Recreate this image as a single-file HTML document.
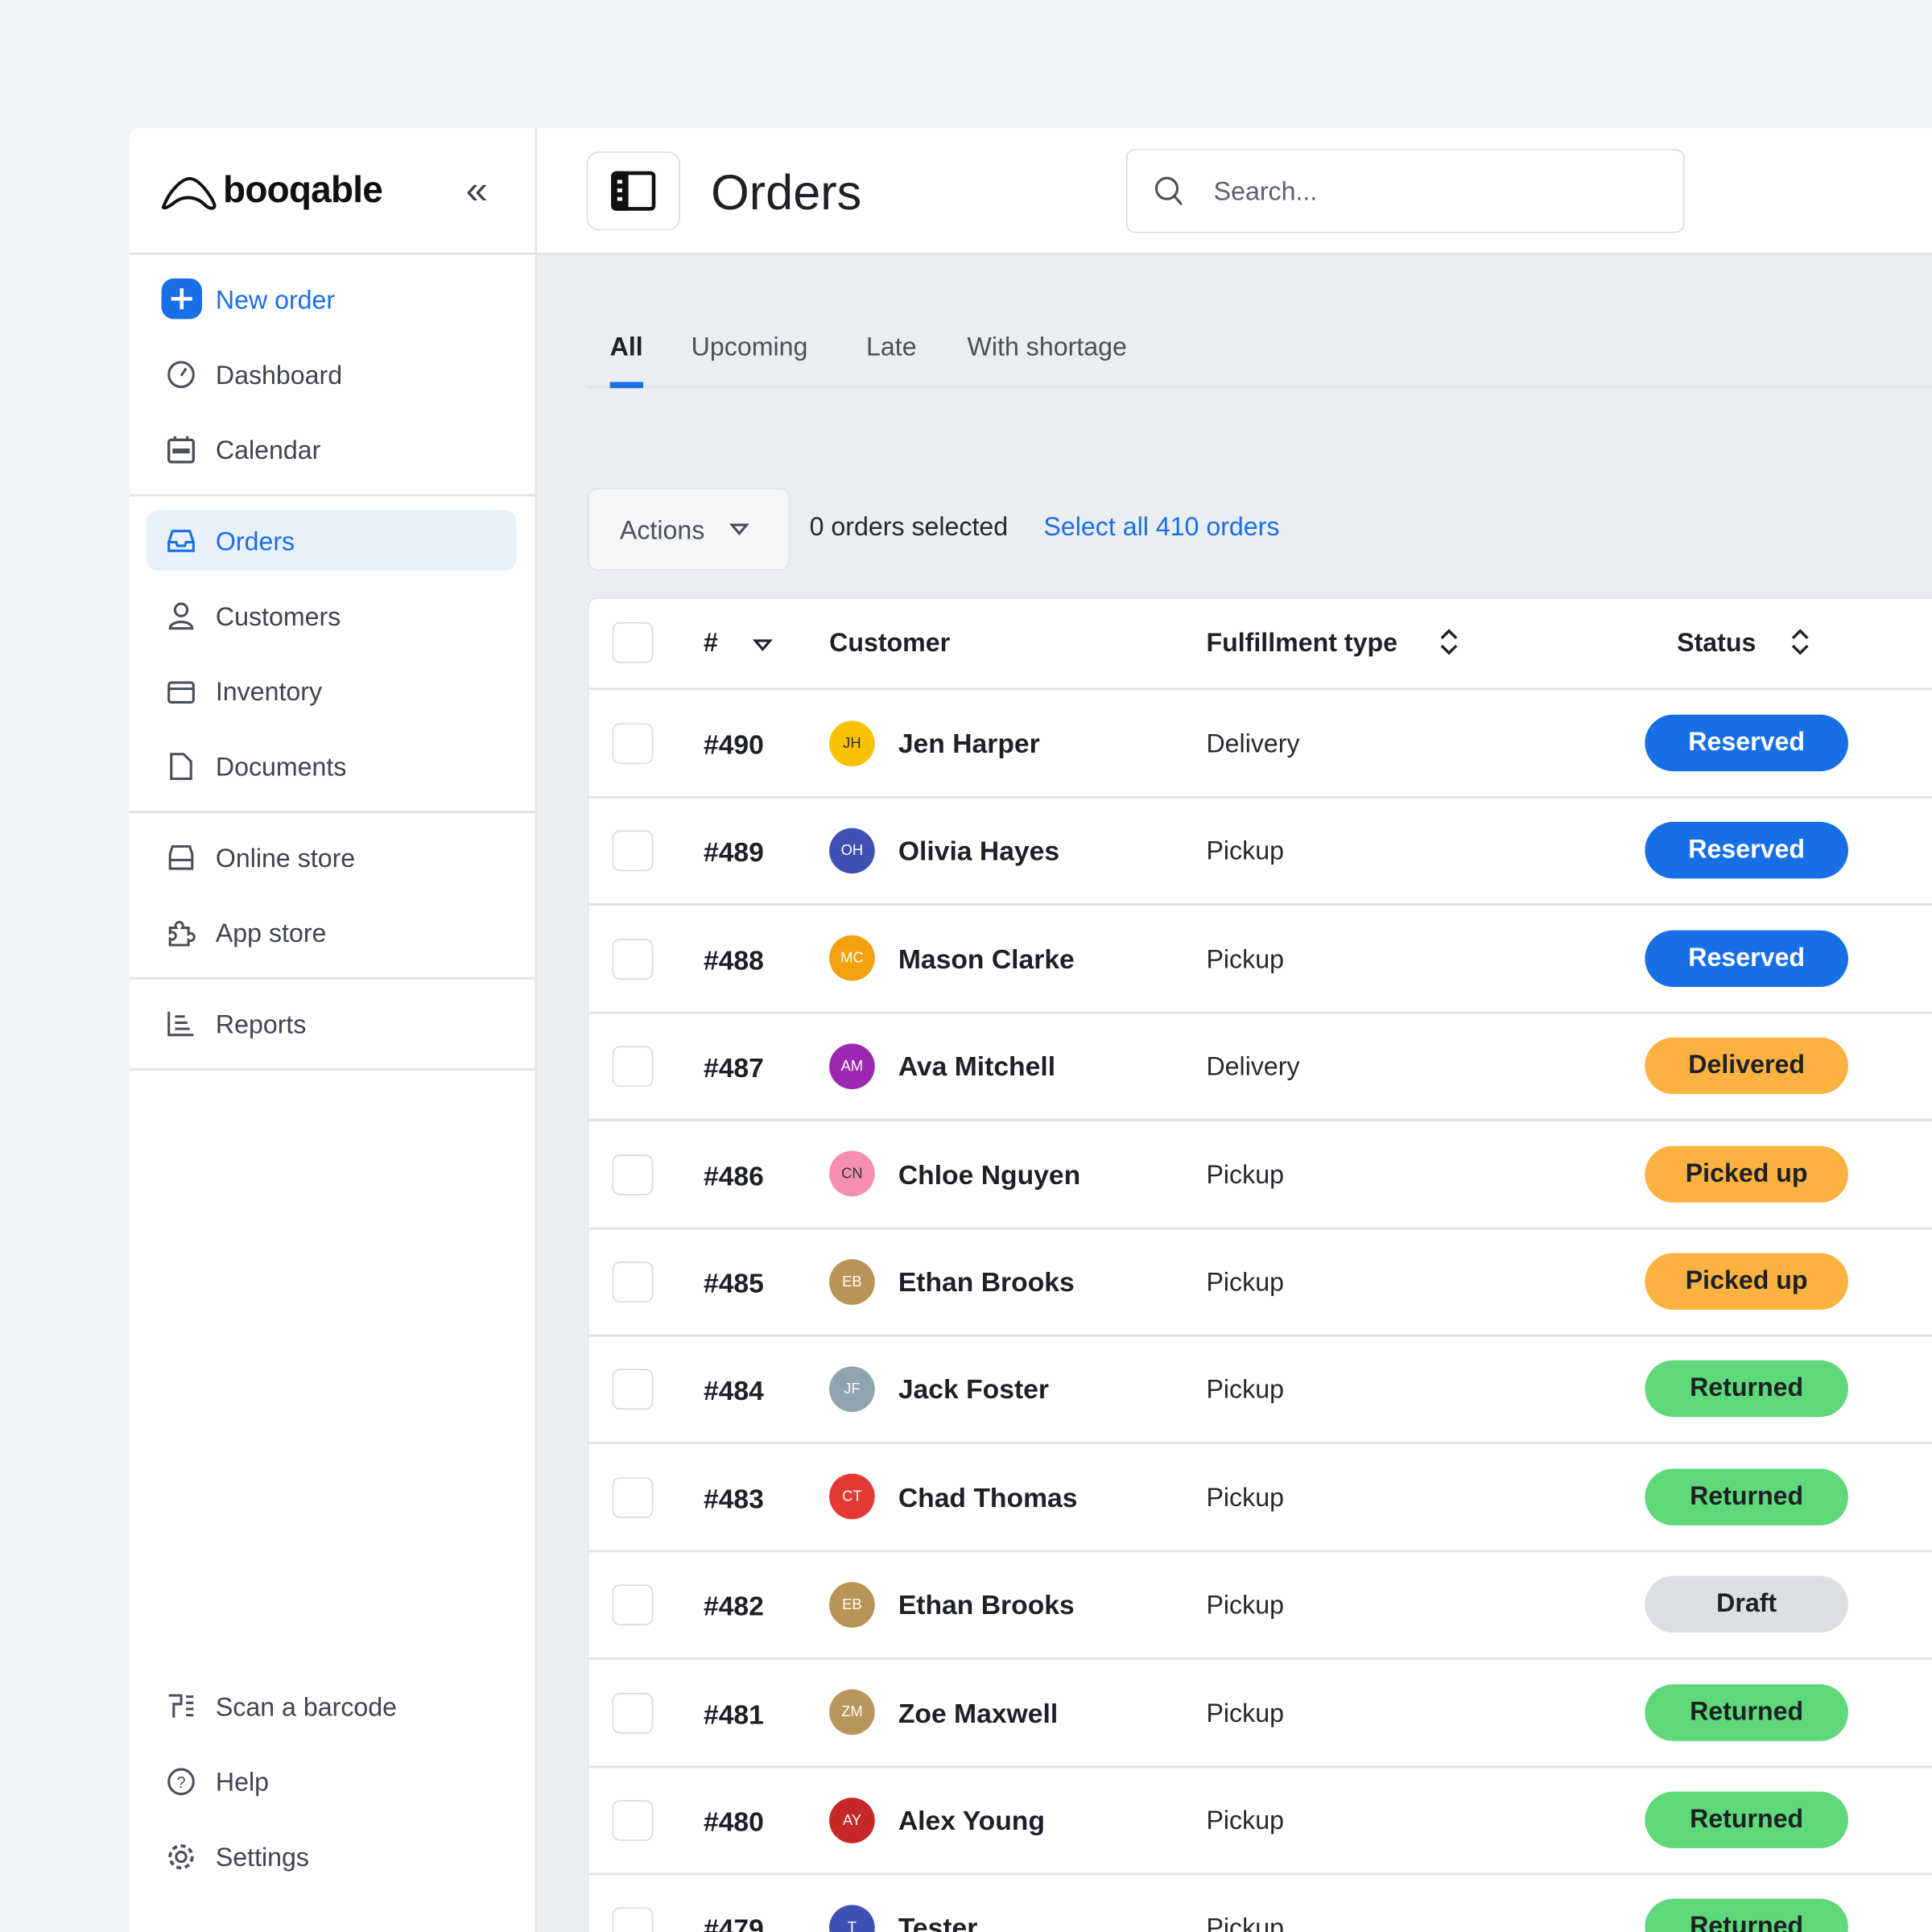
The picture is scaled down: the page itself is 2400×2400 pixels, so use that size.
<!DOCTYPE html>
<html><head><meta charset="utf-8">
<style>
*{margin:0;padding:0;box-sizing:border-box}
html,body{width:2400px;height:2400px;overflow:hidden;background:#f1f4f7}
#w{position:absolute;left:0;top:0;width:1568px;height:1568px;overflow:hidden;transform:scale(1.530612);transform-origin:0 0;font-family:"Liberation Sans",sans-serif;color:#1d2125}
.a{position:absolute}
.t{position:absolute;white-space:nowrap;line-height:1;transform:translateY(-50%)}
.nav{font-size:21px;color:#3f454c}
.ic{position:absolute;width:24px;height:24px}
.hl{position:absolute;height:2px;background:#e1e4e7}
.cb{position:absolute;left:497px;width:33px;height:33px;border:1.5px solid #d5d8db;border-radius:6px;background:#fff}
.num{position:absolute;left:571px;font-size:22px;font-weight:bold}
.av{position:absolute;left:673px;width:37px;height:37px;border-radius:50%;color:#fff;font-size:12px;text-align:center;line-height:37px}
.nm{position:absolute;left:729px;font-size:22px;font-weight:bold}
.ft{position:absolute;left:979px;font-size:21px;color:#25292d}
.pill{position:absolute;left:1335px;width:165px;height:46px;border-radius:23px;text-align:center;line-height:46px;font-size:21px;font-weight:bold}
</style></head><body><div id="w">
<div class="a" style="left:105px;top:104px;width:331px;height:1464px;background:#fff;border-right:2px solid #e1e4e7;border-radius:8px 0 0 0"></div>
<div class="a" style="left:436px;top:104px;width:1132px;height:102px;background:#fff"></div>
<div class="a" style="left:436px;top:206px;width:1132px;height:1362px;background:#ebeef1"></div>
<div class="hl" style="left:105px;top:205px;width:1463px"></div>
<svg class="a" style="left:130px;top:140px" width="48" height="32" viewBox="0 0 48 32"><path d="M3 27 C8 14,18 5,24 5 C32 5,42 20,44 26 C45 30,40 30,36 26 C30 20,20 18,12 24 C6 29,1 30,3 27Z" fill="none" stroke="#111" stroke-width="2.6"/></svg>
<div class="t" style="left:181px;top:155px;font-size:30px;font-weight:bold;letter-spacing:-0.5px;color:#111">booqable</div>
<div class="t" style="left:378px;top:154px;font-size:32px;color:#3f454c">«</div>
<div class="a" style="left:476px;top:123px;width:76px;height:64px;border:1.5px solid #d9dcdf;border-radius:10px;background:#fff"></div>
<div class="a" style="left:496px;top:139px;width:36px;height:32px;border:3.5px solid #111;border-radius:4px"></div>
<div class="a" style="left:496px;top:139px;width:14px;height:32px;background:#111;border-radius:4px 0 0 4px"></div>
<div class="a" style="left:501px;top:146px;width:4px;height:3px;background:#fff"></div>
<div class="a" style="left:501px;top:153px;width:4px;height:3px;background:#fff"></div>
<div class="a" style="left:501px;top:160px;width:4px;height:3px;background:#fff"></div>
<div class="t" style="left:577px;top:157px;font-size:40px;color:#1d2125">Orders</div>
<div class="a" style="left:914px;top:121px;width:453px;height:68px;border:1.5px solid #d5d8db;border-radius:7px;background:#fff"></div>
<svg class="a" style="left:935px;top:141px" width="28" height="28"><circle cx="12" cy="12" r="8.5" fill="none" stroke="#4a5058" stroke-width="2"/><line x1="18" y1="18" x2="24" y2="25" stroke="#4a5058" stroke-width="2"/></svg>
<div class="t" style="left:985px;top:156px;font-size:21px;color:#5b6168">Search...</div>
<div class="a" style="left:131px;top:226px;width:33px;height:33px;border-radius:10px;background:#1a6ee8"></div>
<div class="a" style="left:146px;top:234px;width:2.5px;height:17px;background:#fff"></div>
<div class="a" style="left:139px;top:241px;width:17px;height:2.5px;background:#fff"></div>
<div class="t nav" style="left:175px;top:244px;color:#1a6ee8">New order</div>
<svg class="ic" style="left:135px;top:292px"><circle cx="12" cy="12" r="10" fill="none" stroke="#4a5058" stroke-width="2"/><line x1="12" y1="13" x2="16" y2="7" stroke="#4a5058" stroke-width="2"/></svg>
<div class="t nav" style="left:175px;top:305px">Dashboard</div>
<svg class="ic" style="left:135px;top:353px"><rect x="2" y="4" width="20" height="18" rx="2" fill="none" stroke="#4a5058" stroke-width="2.2"/><rect x="5" y="11" width="14" height="4" fill="#4a5058"/><line x1="7" y1="1" x2="7" y2="5" stroke="#4a5058" stroke-width="2"/><line x1="17" y1="1" x2="17" y2="5" stroke="#4a5058" stroke-width="2"/></svg>
<div class="t nav" style="left:175px;top:366px">Calendar</div>
<div class="hl" style="left:105px;top:401px;width:330px"></div>
<div class="a" style="left:119px;top:414px;width:300px;height:49px;border-radius:9px;background:#e8f0fc"></div>
<svg class="ic" style="left:135px;top:427px"><path d="M2 13 L5 4 H19 L22 13 V20 H2Z M2 13 H8 L9 16 H15 L16 13 H22" fill="none" stroke="#1a6ee8" stroke-width="2"/></svg>
<div class="t nav" style="left:175px;top:440px;color:#1a6ee8">Orders</div>
<svg class="ic" style="left:135px;top:488px"><circle cx="12" cy="7" r="5" fill="none" stroke="#4a5058" stroke-width="2"/><path d="M3 22 C3 15,21 15,21 22Z" fill="none" stroke="#4a5058" stroke-width="2"/></svg>
<div class="t nav" style="left:175px;top:501px">Customers</div>
<svg class="ic" style="left:135px;top:549px"><rect x="2" y="5" width="20" height="16" rx="2" fill="none" stroke="#4a5058" stroke-width="2"/><line x1="2" y1="10" x2="22" y2="10" stroke="#4a5058" stroke-width="2"/></svg>
<div class="t nav" style="left:175px;top:562px">Inventory</div>
<svg class="ic" style="left:135px;top:610px"><path d="M4 2 H14 L20 8 V22 H4Z" fill="none" stroke="#4a5058" stroke-width="2"/></svg>
<div class="t nav" style="left:175px;top:623px">Documents</div>
<div class="hl" style="left:105px;top:658px;width:330px"></div>
<svg class="ic" style="left:135px;top:684px"><path d="M3 9 L5 3 H19 L21 9 V21 H3Z M3 14 H21" fill="none" stroke="#4a5058" stroke-width="2"/></svg>
<div class="t nav" style="left:175px;top:697px">Online store</div>
<svg class="ic" style="left:135px;top:745px"><path d="M3 8 H8 A3 3 0 1 1 13 8 H18 V13 A3 3 0 1 1 18 18 V22 H3 V17 A3 3 0 1 0 3 12Z" fill="none" stroke="#4a5058" stroke-width="2"/></svg>
<div class="t nav" style="left:175px;top:758px">App store</div>
<div class="hl" style="left:105px;top:793px;width:330px"></div>
<svg class="ic" style="left:135px;top:819px"><path d="M2 2 V21 H22 M7 6 H15 M7 11 H17 M7 16 H19" fill="none" stroke="#4a5058" stroke-width="2"/></svg>
<div class="t nav" style="left:175px;top:832px">Reports</div>
<div class="hl" style="left:105px;top:867px;width:330px"></div>
<svg class="ic" style="left:135px;top:1373px"><path d="M2 3 H12 V10 H6 V21 M16 4 H22 M16 9 H22 M16 14 H22 M16 19 H22" fill="none" stroke="#4a5058" stroke-width="2"/></svg>
<div class="t nav" style="left:175px;top:1386px">Scan a barcode</div>
<svg class="ic" style="left:135px;top:1434px"><circle cx="12" cy="12" r="10" fill="none" stroke="#4a5058" stroke-width="2"/><text x="12" y="17" font-size="13" text-anchor="middle" fill="#4a5058" font-family="Liberation Sans">?</text></svg>
<div class="t nav" style="left:175px;top:1447px">Help</div>
<svg class="ic" style="left:135px;top:1495px"><circle cx="12" cy="12" r="4" fill="none" stroke="#4a5058" stroke-width="2"/><circle cx="12" cy="12" r="9" fill="none" stroke="#4a5058" stroke-width="2.5" stroke-dasharray="4 3"/></svg>
<div class="t nav" style="left:175px;top:1508px">Settings</div>
<div class="t" style="left:495px;top:282px;font-size:21px;font-weight:bold">All</div>
<div class="t" style="left:561px;top:282px;font-size:21px;color:#4a5058">Upcoming</div>
<div class="t" style="left:703px;top:282px;font-size:21px;color:#4a5058">Late</div>
<div class="t" style="left:785px;top:282px;font-size:21px;color:#4a5058">With shortage</div>
<div class="hl" style="left:476px;top:313px;width:1092px"></div>
<div class="a" style="left:495px;top:310px;width:27px;height:5px;background:#1a6ee8"></div>
<div class="a" style="left:477px;top:396px;width:164px;height:67px;border:1.5px solid #dfe2e5;border-radius:8px;background:#f4f6f8"></div>
<div class="t" style="left:503px;top:431px;font-size:21px;color:#4a5058">Actions</div>
<svg class="a" style="left:592px;top:424px" width="16" height="12"><path d="M2 2 H14 L8 9Z" fill="none" stroke="#4a5058" stroke-width="2"/></svg>
<div class="t" style="left:657px;top:428px;font-size:21px;color:#25292d">0 orders selected</div>
<div class="t" style="left:847px;top:428px;font-size:21px;color:#1a6ee8">Select all 410 orders</div>
<div class="a" style="left:477px;top:485px;width:1091px;height:1083px;background:#fff;border:1.5px solid #e1e4e7;border-right:none;border-bottom:none;border-radius:8px 0 0 0"></div>
<div class="cb" style="top:505px"></div>
<div class="t" style="left:571px;top:522px;font-size:21px;font-weight:bold">#</div>
<svg class="a" style="left:611px;top:518px" width="16" height="12"><path d="M2 2 H14 L8 9Z" fill="none" stroke="#1d2125" stroke-width="2"/></svg>
<div class="t" style="left:673px;top:522px;font-size:21px;font-weight:bold">Customer</div>
<div class="t" style="left:979px;top:522px;font-size:21px;font-weight:bold">Fulfillment type</div>
<div class="t" style="left:1361px;top:522px;font-size:21px;font-weight:bold">Status</div>
<svg class="a" style="left:1167px;top:510px" width="18" height="22"><path d="M3 8 L9 2 L15 8 M3 14 L9 20 L15 14" fill="none" stroke="#1d2125" stroke-width="2.2"/></svg>
<svg class="a" style="left:1452px;top:510px" width="18" height="22"><path d="M3 8 L9 2 L15 8 M3 14 L9 20 L15 14" fill="none" stroke="#1d2125" stroke-width="2.2"/></svg>
<div class="hl" style="left:477px;top:558px;width:1091px"></div>
<div class="hl" style="left:477px;top:646px;width:1091px"></div>
<div class="hl" style="left:477px;top:733px;width:1091px"></div>
<div class="hl" style="left:477px;top:821px;width:1091px"></div>
<div class="hl" style="left:477px;top:908px;width:1091px"></div>
<div class="hl" style="left:477px;top:996px;width:1091px"></div>
<div class="hl" style="left:477px;top:1083px;width:1091px"></div>
<div class="hl" style="left:477px;top:1170px;width:1091px"></div>
<div class="hl" style="left:477px;top:1258px;width:1091px"></div>
<div class="hl" style="left:477px;top:1345px;width:1091px"></div>
<div class="hl" style="left:477px;top:1433px;width:1091px"></div>
<div class="hl" style="left:477px;top:1520px;width:1091px"></div>
<div class="cb" style="top:587px"></div><div class="t num" style="top:605px">#490</div><div class="av" style="top:585px;background:#f8c200;color:#333">JH</div><div class="t nm" style="top:604px">Jen Harper</div><div class="t ft" style="top:604px">Delivery</div><div class="pill" style="top:580px;background:#176fe6;color:#fff">Reserved</div>
<div class="cb" style="top:674px"></div><div class="t num" style="top:692px">#489</div><div class="av" style="top:672px;background:#3f51b5">OH</div><div class="t nm" style="top:691px">Olivia Hayes</div><div class="t ft" style="top:691px">Pickup</div><div class="pill" style="top:667px;background:#176fe6;color:#fff">Reserved</div>
<div class="cb" style="top:762px"></div><div class="t num" style="top:780px">#488</div><div class="av" style="top:759px;background:#f5a00f">MC</div><div class="t nm" style="top:779px">Mason Clarke</div><div class="t ft" style="top:779px">Pickup</div><div class="pill" style="top:755px;background:#176fe6;color:#fff">Reserved</div>
<div class="cb" style="top:849px"></div><div class="t num" style="top:867px">#487</div><div class="av" style="top:847px;background:#9c27b0">AM</div><div class="t nm" style="top:866px">Ava Mitchell</div><div class="t ft" style="top:866px">Delivery</div><div class="pill" style="top:842px;background:#fbb240;color:#1d2125">Delivered</div>
<div class="cb" style="top:937px"></div><div class="t num" style="top:955px">#486</div><div class="av" style="top:934px;background:#f48fb1;color:#333">CN</div><div class="t nm" style="top:954px">Chloe Nguyen</div><div class="t ft" style="top:954px">Pickup</div><div class="pill" style="top:930px;background:#fbb240;color:#1d2125">Picked up</div>
<div class="cb" style="top:1024px"></div><div class="t num" style="top:1042px">#485</div><div class="av" style="top:1022px;background:#b89456">EB</div><div class="t nm" style="top:1041px">Ethan Brooks</div><div class="t ft" style="top:1041px">Pickup</div><div class="pill" style="top:1017px;background:#fbb240;color:#1d2125">Picked up</div>
<div class="cb" style="top:1111px"></div><div class="t num" style="top:1129px">#484</div><div class="av" style="top:1109px;background:#90a4ae">JF</div><div class="t nm" style="top:1128px">Jack Foster</div><div class="t ft" style="top:1128px">Pickup</div><div class="pill" style="top:1104px;background:#5fd87a;color:#1d2125">Returned</div>
<div class="cb" style="top:1199px"></div><div class="t num" style="top:1217px">#483</div><div class="av" style="top:1196px;background:#e53935">CT</div><div class="t nm" style="top:1216px">Chad Thomas</div><div class="t ft" style="top:1216px">Pickup</div><div class="pill" style="top:1192px;background:#5fd87a;color:#1d2125">Returned</div>
<div class="cb" style="top:1286px"></div><div class="t num" style="top:1304px">#482</div><div class="av" style="top:1284px;background:#b89456">EB</div><div class="t nm" style="top:1303px">Ethan Brooks</div><div class="t ft" style="top:1303px">Pickup</div><div class="pill" style="top:1279px;background:#dcdfe2;color:#1d2125">Draft</div>
<div class="cb" style="top:1374px"></div><div class="t num" style="top:1392px">#481</div><div class="av" style="top:1371px;background:#b8955a">ZM</div><div class="t nm" style="top:1391px">Zoe Maxwell</div><div class="t ft" style="top:1391px">Pickup</div><div class="pill" style="top:1367px;background:#5fd87a;color:#1d2125">Returned</div>
<div class="cb" style="top:1461px"></div><div class="t num" style="top:1479px">#480</div><div class="av" style="top:1459px;background:#c62828">AY</div><div class="t nm" style="top:1478px">Alex Young</div><div class="t ft" style="top:1478px">Pickup</div><div class="pill" style="top:1454px;background:#5fd87a;color:#1d2125">Returned</div>
<div class="cb" style="top:1548px"></div><div class="t num" style="top:1566px">#479</div><div class="av" style="top:1546px;background:#3f51b5">T</div><div class="t nm" style="top:1565px">Tester</div><div class="t ft" style="top:1565px">Pickup</div><div class="pill" style="top:1541px;background:#5fd87a;color:#1d2125">Returned</div>
</div></body></html>
